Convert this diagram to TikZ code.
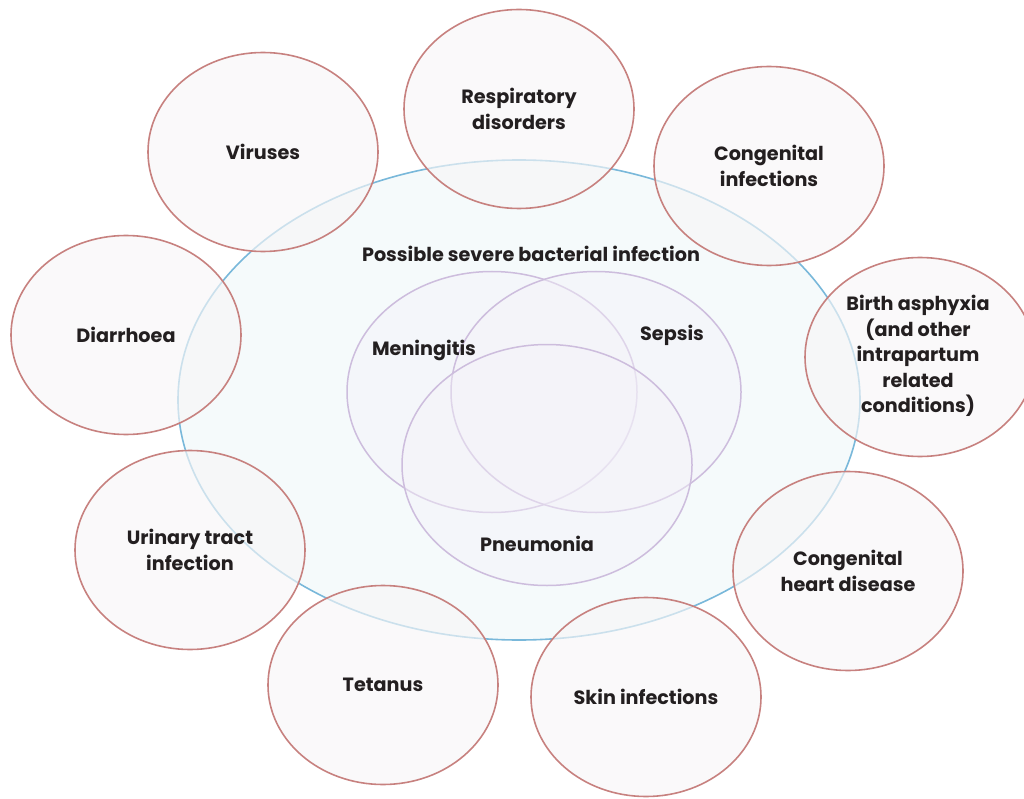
\documentclass[tikz,border=0pt]{standalone}
\usepackage{fontspec}
\setmainfont{Poppins}
\usetikzlibrary{shapes.geometric}
\definecolor{txt}{HTML}{231F20}
\definecolor{ringred}{HTML}{C7817F}
\definecolor{ringfill}{HTML}{F7F6F7}
\definecolor{pbiline}{HTML}{79B8DA}
\definecolor{pbifill}{HTML}{F5FAFB}
\definecolor{vennline}{HTML}{CDBDDD}
\definecolor{vennfill}{HTML}{F4F2F9}
\tikzset{
  lbl/.style={font=\fontsize{19.2}{25.5}\selectfont\bfseries, text=txt, align=center},
  cause/.style={ellipse, draw=ringred, line width=1.6pt, fill=ringfill,
    fill opacity=0.65, text opacity=1, minimum width=230pt, minimum height=199pt,
    inner sep=0pt, lbl},
  venn/.style={ellipse, draw=vennline, line width=1.5pt, fill=vennfill,
    fill opacity=0.45, minimum width=290pt, minimum height=241pt, inner sep=0pt},
}
\begin{document}
\begin{tikzpicture}[x=1pt,y=-1pt]
\useasboundingbox (0,0) rectangle (1024,799);
\clip (0,0) rectangle (1024,799);
% outer group: possible severe bacterial infection
\node[ellipse, draw=pbiline, line width=1.6pt, fill=pbifill,
  minimum width=682pt, minimum height=480pt, inner sep=0pt] (psbi) at (519,400) {};
\node[lbl] (psbilbl) at (531,254) {Possible severe bacterial infection};
% three overlapping conditions
\node[venn] (men) at (492,392) {};
\node[venn] (sep) at (596,392) {};
\node[venn] (pne) at (547,465) {};
\node[lbl] (menlbl) at (424,350) {Meningitis};
\node[lbl] (seplbl) at (672,335) {Sepsis};
\node[lbl] (pnelbl) at (537,544) {Pneumonia};
% surrounding causes
\node[cause] (resp) at (519,109) {Respiratory\\disorders};
\node[cause] (vir) at (263,152) {Viruses};
\node[cause] (cinf) at (769,166) {Congenital\\infections};
\node[cause] (diar) at (126,335) {Diarrhoea};
\node[cause] (birth) at (920,357) {};
\node[lbl] (birthlbl) at (918,356) {Birth asphyxia\\(and other\\intrapartum\\related\\conditions)};
\node[cause] (uti) at (190,550) {Urinary tract\\infection};
\node[cause] (chd) at (848,571) {Congenital\\heart disease};
\node[cause] (tet) at (383,685) {Tetanus};
\node[cause] (skin) at (646,697) {Skin infections};
\end{tikzpicture}
\end{document}
